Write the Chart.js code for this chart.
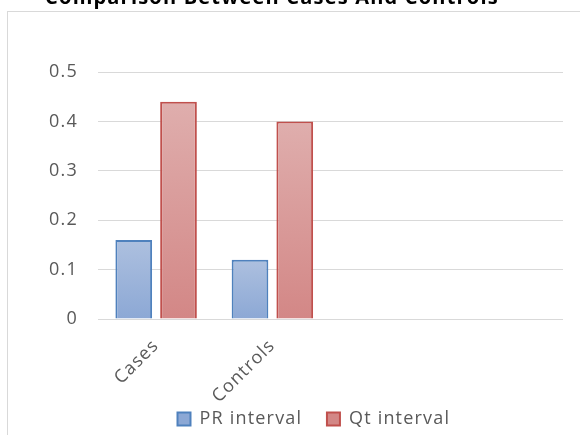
<!DOCTYPE html>
<html>
<head>
<meta charset="utf-8">
<script src="https://cdn.jsdelivr.net/npm/chart.js@4.4.1/dist/chart.umd.min.js"></script>
<style>
  html, body { margin: 0; padding: 0; background: #fff; overflow: hidden; }
  #wrap { position: relative; width: 580px; height: 435px; }
  #frame {
    position: absolute; left: 7px; top: 11px; width: 620px; height: 480px;
    border: 1px solid #d9d9d9; box-sizing: border-box;
  }
  #chartBox { position: absolute; left: 0; top: 0; width: 580px; height: 435px; }
</style>
</head>
<body>
<div id="wrap">
  <div id="frame"></div>
  <div id="chartBox"><canvas id="qtChart"></canvas></div>
</div>
<script>
  const chartTitle = "Comparison Between Cases And Controls";
  const categories = ["Cases", "Controls", "", ""];
  const seriesNames = ["PR interval", "Qt interval"];
  const prValues = [0.16, 0.12, null, null];
  const qtValues = [0.44, 0.40, null, null];
  const yTicks = [0, 0.1, 0.2, 0.3, 0.4, 0.5];

  const FONT = "'Open Sans'";
  const SPACING = "1.2px";
  const legendFont = "18px " + FONT;

  // pad a legend label with trailing (hair) spaces so the items sit apart like the original
  function padLabel(text, target) {
    const c = document.createElement("canvas").getContext("2d");
    c.font = legendFont;
    c.letterSpacing = SPACING;
    let t = text;
    while (c.measureText(t + " ").width < target) t += " ";
    while (c.measureText(t).width < target) t += "\u200A";
    return t;
  }

  // vertical gradient for each bar, lighter at the top
  function barFill(top, bottom, mid) {
    return function (ctx) {
      const chart = ctx.chart;
      if (!chart.chartArea || ctx.type !== "data" || ctx.raw == null) return mid;
      const y = chart.scales.y.getPixelForValue(ctx.raw);
      const base = chart.scales.y.getPixelForValue(0);
      const g = chart.ctx.createLinearGradient(0, y, 0, base);
      g.addColorStop(0, top);
      g.addColorStop(1, bottom);
      return g;
    };
  }

  // slightly wider text, like the original rendering
  const spacing = {
    id: "spacing",
    beforeUpdate(chart) { chart.ctx.letterSpacing = SPACING; },
    beforeDraw(chart) { chart.ctx.letterSpacing = SPACING; },
  };

  // title sits above the frame and is cut by the top edge
  const cutTitle = {
    id: "cutTitle",
    afterDraw(chart) {
      const c = chart.ctx;
      c.save();
      c.font = "bold 20px " + FONT;
      c.fillStyle = "#000";
      c.textAlign = "center";
      c.textBaseline = "alphabetic";
      c.fillText(chartTitle, 272, 4);
      c.restore();
    },
  };

  const ctx = document.getElementById("qtChart").getContext("2d");
  new Chart(ctx, {
    type: "bar",
    data: {
      labels: categories,
      datasets: [
        {
          label: seriesNames[0],
          data: prValues,
          backgroundColor: barFill("#adc0df", "#8ca8d5", "#a0b6db"),
          borderColor: "#4f81bd",
          borderWidth: 2,
          categoryPercentage: 0.77,
          barPercentage: 0.82,
        },
        {
          label: seriesNames[1],
          data: qtValues,
          backgroundColor: barFill("#dfaead", "#d38786", "#d99c9b"),
          borderColor: "#c0504d",
          borderWidth: 2,
          categoryPercentage: 0.77,
          barPercentage: 0.82,
        },
      ],
    },
    options: {
      responsive: true,
      maintainAspectRatio: false,
      animation: false,
      layout: { padding: { left: 10, right: 17, top: 72, bottom: -3 } },
      plugins: {
        legend: {
          position: "bottom",
          align: "end",
          labels: {
            boxWidth: 13,
            boxHeight: 13,
            padding: 4,
            color: "#595959",
            font: { family: FONT, size: 18 },
            generateLabels(chart) {
              const items = Chart.defaults.plugins.legend.labels.generateLabels(chart);
              items[0].text = padLabel(items[0].text, 121);
              items[1].text = padLabel(items[1].text, 208);
              return items;
            },
          },
        },
        tooltip: { enabled: false },
      },
      scales: {
        x: {
          grid: { display: false },
          border: { display: false },
          ticks: {
            color: "#595959",
            font: { family: FONT, size: 18 },
            minRotation: 45,
            maxRotation: 45,
            padding: 8,
          },
          afterFit(scale) { scale.height = 87; },
        },
        y: {
          min: 0,
          max: 0.5,
          afterBuildTicks(scale) { scale.ticks = yTicks.map((v) => ({ value: v })); },
          grid: { color: "#d9d9d9", lineWidth: 1, drawTicks: false },
          border: { display: false },
          ticks: {
            color: "#595959",
            font: { family: FONT, size: 18 },
            padding: 20,
            callback: (v) => (v === 0 ? "0" : v.toFixed(1)),
          },
          afterFit(scale) { scale.width = 88; },
        },
      },
    },
    plugins: [spacing, cutTitle],
  });
</script>
</body>
</html>
